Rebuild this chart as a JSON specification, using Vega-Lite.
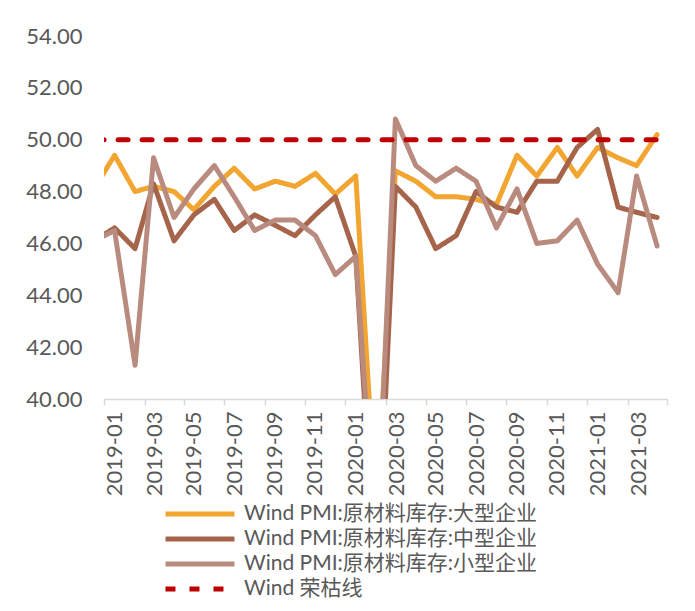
{
  "$schema": "https://vega.github.io/schema/vega-lite/v6.json",
  "width": 563,
  "height": 363,
  "autosize": {"type": "none"},
  "padding": {"left": 104, "top": 36, "right": 28, "bottom": 212},
  "background": "white",
  "config": {
    "view": {"stroke": null},
    "font": "Lato",
    "axis": {"labelFont": "Lato", "labelColor": "#595959", "grid": false}
  },
  "data": {
    "format": {"parse": {"month": "date:'%Y-%m'"}},
    "values": [
      {"month": "2018-12", "Wind PMI:原材料库存:大型企业": 48.1, "Wind PMI:原材料库存:中型企业": 46.1, "Wind PMI:原材料库存:小型企业": 46.1, "Wind 荣枯线": 50},
      {"month": "2019-01", "Wind PMI:原材料库存:大型企业": 49.4, "Wind PMI:原材料库存:中型企业": 46.6, "Wind PMI:原材料库存:小型企业": 46.5, "Wind 荣枯线": 50},
      {"month": "2019-02", "Wind PMI:原材料库存:大型企业": 48.0, "Wind PMI:原材料库存:中型企业": 45.8, "Wind PMI:原材料库存:小型企业": 41.3, "Wind 荣枯线": 50},
      {"month": "2019-03", "Wind PMI:原材料库存:大型企业": 48.2, "Wind PMI:原材料库存:中型企业": 48.3, "Wind PMI:原材料库存:小型企业": 49.3, "Wind 荣枯线": 50},
      {"month": "2019-04", "Wind PMI:原材料库存:大型企业": 48.0, "Wind PMI:原材料库存:中型企业": 46.1, "Wind PMI:原材料库存:小型企业": 47.0, "Wind 荣枯线": 50},
      {"month": "2019-05", "Wind PMI:原材料库存:大型企业": 47.3, "Wind PMI:原材料库存:中型企业": 47.1, "Wind PMI:原材料库存:小型企业": 48.1, "Wind 荣枯线": 50},
      {"month": "2019-06", "Wind PMI:原材料库存:大型企业": 48.2, "Wind PMI:原材料库存:中型企业": 47.7, "Wind PMI:原材料库存:小型企业": 49.0, "Wind 荣枯线": 50},
      {"month": "2019-07", "Wind PMI:原材料库存:大型企业": 48.9, "Wind PMI:原材料库存:中型企业": 46.5, "Wind PMI:原材料库存:小型企业": 47.8, "Wind 荣枯线": 50},
      {"month": "2019-08", "Wind PMI:原材料库存:大型企业": 48.1, "Wind PMI:原材料库存:中型企业": 47.1, "Wind PMI:原材料库存:小型企业": 46.5, "Wind 荣枯线": 50},
      {"month": "2019-09", "Wind PMI:原材料库存:大型企业": 48.4, "Wind PMI:原材料库存:中型企业": 46.7, "Wind PMI:原材料库存:小型企业": 46.9, "Wind 荣枯线": 50},
      {"month": "2019-10", "Wind PMI:原材料库存:大型企业": 48.2, "Wind PMI:原材料库存:中型企业": 46.3, "Wind PMI:原材料库存:小型企业": 46.9, "Wind 荣枯线": 50},
      {"month": "2019-11", "Wind PMI:原材料库存:大型企业": 48.7, "Wind PMI:原材料库存:中型企业": 47.1, "Wind PMI:原材料库存:小型企业": 46.3, "Wind 荣枯线": 50},
      {"month": "2019-12", "Wind PMI:原材料库存:大型企业": 47.9, "Wind PMI:原材料库存:中型企业": 47.8, "Wind PMI:原材料库存:小型企业": 44.8, "Wind 荣枯线": 50},
      {"month": "2020-01", "Wind PMI:原材料库存:大型企业": 48.6, "Wind PMI:原材料库存:中型企业": 45.5, "Wind PMI:原材料库存:小型企业": 45.5, "Wind 荣枯线": 50},
      {"month": "2020-02", "Wind PMI:原材料库存:大型企业": 35.5, "Wind PMI:原材料库存:中型企业": 32.5, "Wind PMI:原材料库存:小型企业": 34.0, "Wind 荣枯线": 50},
      {"month": "2020-03", "Wind PMI:原材料库存:大型企业": 48.8, "Wind PMI:原材料库存:中型企业": 48.2, "Wind PMI:原材料库存:小型企业": 50.8, "Wind 荣枯线": 50},
      {"month": "2020-04", "Wind PMI:原材料库存:大型企业": 48.4, "Wind PMI:原材料库存:中型企业": 47.4, "Wind PMI:原材料库存:小型企业": 49.0, "Wind 荣枯线": 50},
      {"month": "2020-05", "Wind PMI:原材料库存:大型企业": 47.8, "Wind PMI:原材料库存:中型企业": 45.8, "Wind PMI:原材料库存:小型企业": 48.4, "Wind 荣枯线": 50},
      {"month": "2020-06", "Wind PMI:原材料库存:大型企业": 47.8, "Wind PMI:原材料库存:中型企业": 46.3, "Wind PMI:原材料库存:小型企业": 48.9, "Wind 荣枯线": 50},
      {"month": "2020-07", "Wind PMI:原材料库存:大型企业": 47.7, "Wind PMI:原材料库存:中型企业": 48.0, "Wind PMI:原材料库存:小型企业": 48.4, "Wind 荣枯线": 50},
      {"month": "2020-08", "Wind PMI:原材料库存:大型企业": 47.5, "Wind PMI:原材料库存:中型企业": 47.4, "Wind PMI:原材料库存:小型企业": 46.6, "Wind 荣枯线": 50},
      {"month": "2020-09", "Wind PMI:原材料库存:大型企业": 49.4, "Wind PMI:原材料库存:中型企业": 47.2, "Wind PMI:原材料库存:小型企业": 48.1, "Wind 荣枯线": 50},
      {"month": "2020-10", "Wind PMI:原材料库存:大型企业": 48.6, "Wind PMI:原材料库存:中型企业": 48.4, "Wind PMI:原材料库存:小型企业": 46.0, "Wind 荣枯线": 50},
      {"month": "2020-11", "Wind PMI:原材料库存:大型企业": 49.7, "Wind PMI:原材料库存:中型企业": 48.4, "Wind PMI:原材料库存:小型企业": 46.1, "Wind 荣枯线": 50},
      {"month": "2020-12", "Wind PMI:原材料库存:大型企业": 48.6, "Wind PMI:原材料库存:中型企业": 49.7, "Wind PMI:原材料库存:小型企业": 46.9, "Wind 荣枯线": 50},
      {"month": "2021-01", "Wind PMI:原材料库存:大型企业": 49.7, "Wind PMI:原材料库存:中型企业": 50.4, "Wind PMI:原材料库存:小型企业": 45.2, "Wind 荣枯线": 50},
      {"month": "2021-02", "Wind PMI:原材料库存:大型企业": 49.3, "Wind PMI:原材料库存:中型企业": 47.4, "Wind PMI:原材料库存:小型企业": 44.1, "Wind 荣枯线": 50},
      {"month": "2021-03", "Wind PMI:原材料库存:大型企业": 49.0, "Wind PMI:原材料库存:中型企业": 47.2, "Wind PMI:原材料库存:小型企业": 48.6, "Wind 荣枯线": 50},
      {"month": "2021-04", "Wind PMI:原材料库存:大型企业": 50.2, "Wind PMI:原材料库存:中型企业": 47.0, "Wind PMI:原材料库存:小型企业": 45.9, "Wind 荣枯线": 50}
    ]
  },
  "transform": [
    {"fold": ["Wind PMI:原材料库存:大型企业", "Wind PMI:原材料库存:中型企业", "Wind PMI:原材料库存:小型企业", "Wind 荣枯线"], "as": ["series", "value"]}
  ],
  "mark": {"type": "line", "clip": true, "strokeJoin": "round", "strokeCap": "round"},
  "encoding": {
    "x": {
      "field": "month",
      "type": "temporal",
      "scale": {"domain": [{"year": 2018, "month": 12, "date": 16}, {"year": 2021, "month": 4, "date": 16}]},
      "axis": {
        "title": null,
        "values": [
          {"year": 2018, "month": 12, "date": 16},
          {"year": 2019, "month": 2, "date": 16},
          {"year": 2019, "month": 4, "date": 16},
          {"year": 2019, "month": 6, "date": 16},
          {"year": 2019, "month": 8, "date": 16},
          {"year": 2019, "month": 10, "date": 16},
          {"year": 2019, "month": 12, "date": 16},
          {"year": 2020, "month": 2, "date": 16},
          {"year": 2020, "month": 4, "date": 16},
          {"year": 2020, "month": 6, "date": 16},
          {"year": 2020, "month": 8, "date": 16},
          {"year": 2020, "month": 10, "date": 16},
          {"year": 2020, "month": 12, "date": 16},
          {"year": 2021, "month": 2, "date": 16},
          {"year": 2021, "month": 4, "date": 16}
        ],
        "labelExpr": "(year(datum.value) == 2021 && month(datum.value) == 3) ? '' : timeFormat(datetime(year(datum.value), month(datum.value) + 1, 1), '%Y-%m')",
        "labelAngle": -90,
        "labelAlign": "right",
        "labelBaseline": "middle",
        "labelOffset": 10,
        "labelPadding": 6,
        "labelFontSize": 22,
        "labelOverlap": false,
        "labelBound": false,
        "labelFlush": false,
        "domainColor": "#D9D9D9",
        "domainWidth": 1.5,
        "tickColor": "#D9D9D9",
        "tickWidth": 1.5,
        "tickSize": 6
      }
    },
    "y": {
      "field": "value",
      "type": "quantitative",
      "scale": {"domain": [40, 54], "nice": false, "zero": false},
      "axis": {
        "title": null,
        "values": [40, 42, 44, 46, 48, 50, 52, 54],
        "format": ".2f",
        "ticks": false,
        "domain": false,
        "labelFontSize": 22,
        "labelPadding": 22
      }
    },
    "color": {
      "field": "series",
      "type": "nominal",
      "scale": {
        "domain": ["Wind PMI:原材料库存:大型企业", "Wind PMI:原材料库存:中型企业", "Wind PMI:原材料库存:小型企业", "Wind 荣枯线"],
        "range": ["#F2A531", "#A6644B", "#B98B7F", "#C00000"]
      },
      "legend": {
        "title": null,
        "orient": "none",
        "legendX": 82,
        "legendY": 464,
        "direction": "vertical",
        "symbolType": "M-3,0H3",
        "symbolSize": 529,
        "symbolStrokeWidth": 5,
        "labelFontSize": 21,
        "labelFont": "Lato, Noto Sans CJK SC",
        "labelColor": "#595959",
        "labelOffset": 30,
        "labelLimit": 400,
        "rowPadding": 1
      }
    },
    "strokeDash": {
      "field": "series",
      "type": "nominal",
      "scale": {
        "domain": ["Wind PMI:原材料库存:大型企业", "Wind PMI:原材料库存:中型企业", "Wind PMI:原材料库存:小型企业", "Wind 荣枯线"],
        "range": [[1, 0], [1, 0], [1, 0], [10, 14]]
      }
    },
    "strokeWidth": {
      "field": "series",
      "type": "nominal",
      "scale": {
        "domain": ["Wind PMI:原材料库存:大型企业", "Wind PMI:原材料库存:中型企业", "Wind PMI:原材料库存:小型企业", "Wind 荣枯线"],
        "range": [5, 5, 5, 6]
      },
      "legend": null
    }
  }
}
